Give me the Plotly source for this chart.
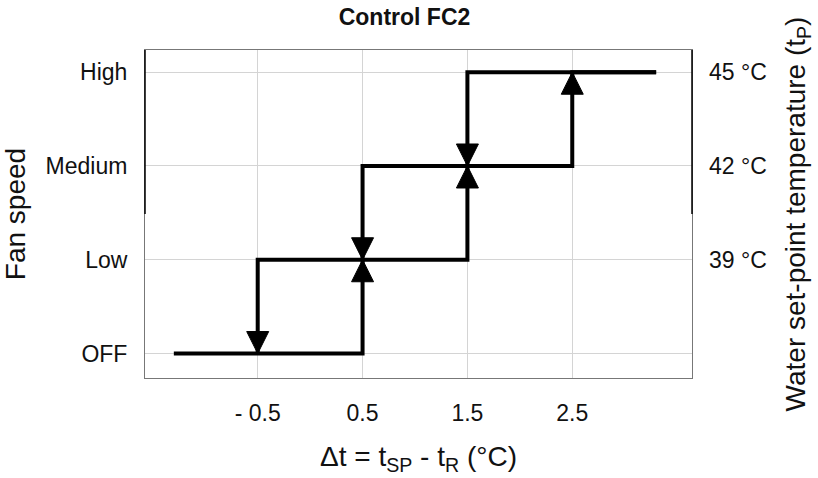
import plotly.graph_objects as go

# ---- data ----
title_text = "Control FC2"
speed_levels = ["OFF", "Low", "Medium", "High"]
level_values = [0, 1, 2, 3]
temp_labels = ["39 °C", "42 °C", "45 °C"]
temp_levels = [1, 2, 3]
x_ticks = [-0.5, 0.5, 1.5, 2.5]
x_ticktext = ["- 0.5", "0.5", "1.5", "2.5"]

# rising path (speed increases)
x_up = [-1.3, 0.5, 0.5, 1.5, 1.5, 2.5, 2.5, 3.3]
y_up = [0, 0, 1, 1, 2, 2, 3, 3]
# falling path (speed decreases)
x_down = [3.3, 1.5, 1.5, 0.5, 0.5, -0.5, -0.5]
y_down = [3, 3, 2, 2, 1, 1, 0]

# arrow positions (tip locations)
up_arrow_x = [0.5, 1.5, 2.5]
up_arrow_y = [1, 2, 3]
down_arrow_x = [-0.5, 0.5, 1.5]
down_arrow_y = [0, 1, 2]

FONT = "Liberation Sans, Arial, sans-serif"
LINE_W = 4
HEAD_HALF_W = 11
HEAD_LEN = 22

fig = go.Figure()
fig.add_trace(go.Scatter(x=x_up, y=y_up, mode="lines",
                         line=dict(color="black", width=LINE_W),
                         hoverinfo="skip", showlegend=False))
fig.add_trace(go.Scatter(x=x_down, y=y_down, mode="lines",
                         line=dict(color="black", width=LINE_W),
                         hoverinfo="skip", showlegend=False))
# invisible trace to activate right axis
fig.add_trace(go.Scatter(x=[x_up[0]], y=[y_up[0]], yaxis="y2", mode="markers",
                         marker=dict(opacity=0), hoverinfo="skip", showlegend=False))

shapes = []
up_path = f"M{-HEAD_HALF_W},{-HEAD_LEN} L{HEAD_HALF_W},{-HEAD_LEN} L0,0 Z"
down_path = f"M{-HEAD_HALF_W},{HEAD_LEN} L{HEAD_HALF_W},{HEAD_LEN} L0,0 Z"
for xa, ya in zip(up_arrow_x, up_arrow_y):
    shapes.append(dict(type="path", xref="x", yref="y", xsizemode="pixel", ysizemode="pixel",
                       xanchor=xa, yanchor=ya, path=up_path,
                       fillcolor="black", line=dict(color="black", width=1), layer="above"))
for xa, ya in zip(down_arrow_x, down_arrow_y):
    shapes.append(dict(type="path", xref="x", yref="y", xsizemode="pixel", ysizemode="pixel",
                       xanchor=xa, yanchor=ya, path=down_path,
                       fillcolor="black", line=dict(color="black", width=1), layer="above"))
# darker upper halves of the side frame lines (as in the reference)
shapes += [
    dict(type="line", xref="paper", yref="paper", x0=0, x1=0, y0=0.5, y1=1,
         line=dict(color="black", width=1.5)),
    dict(type="line", xref="paper", yref="paper", x0=1, x1=1, y0=0.5, y1=1,
         line=dict(color="black", width=1.5)),
]

yr = [-0.261, 3.237]
fig.update_layout(
    width=818, height=478,
    margin=dict(l=139, r=126, t=50, b=84),
    paper_bgcolor="white", plot_bgcolor="white",
    font=dict(family=FONT, size=23, color="#111"),
    title=dict(text="<b>" + title_text + "</b>", x=0.4945, xanchor="center",
               y=1 - 17 / 478, yanchor="middle", yref="container",
               font=dict(family=FONT, size=23, color="#111")),
    xaxis=dict(range=[-1.575, 3.642], tickvals=x_ticks, ticktext=x_ticktext,
               showgrid=True, gridcolor="#d4d4d4", gridwidth=1, zeroline=False,
               showline=True, linecolor="#777", linewidth=1, mirror=True,
               ticks="", ticklabelstandoff=14,
               title=dict(text="Δt = t<sub>SP</sub> - t<sub>R</sub> (°C)", standoff=21)),
    yaxis=dict(range=yr, tickvals=level_values, ticktext=speed_levels,
               showgrid=True, gridcolor="#d4d4d4", gridwidth=1, zeroline=False,
               showline=True, linecolor="#777", linewidth=1, mirror=True,
               ticks="", ticklabelstandoff=12,
               title=dict(text="Fan speed", standoff=14)),
    yaxis2=dict(range=yr, tickvals=temp_levels, ticktext=temp_labels, overlaying="y",
                side="right", showgrid=False, zeroline=False, showline=False,
                ticks="", ticklabelstandoff=16,
                title=dict(text="Water set-point temperature (t<sub>P</sub>)", standoff=19)),
    shapes=shapes,
)

fig.write_html("out.html")
